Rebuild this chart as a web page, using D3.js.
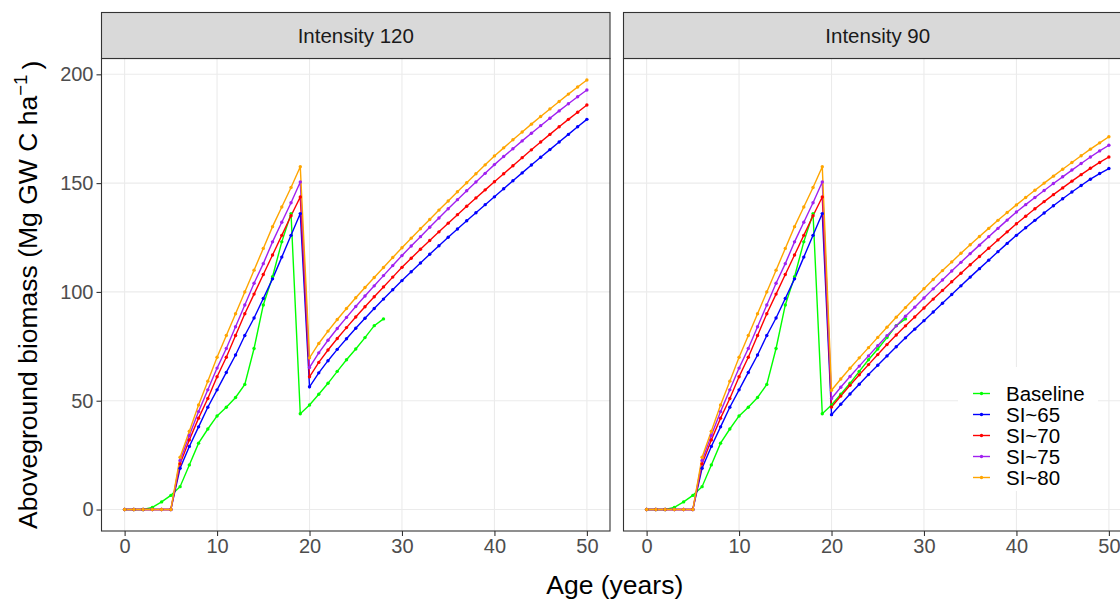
<!DOCTYPE html>
<meta charset="utf-8">
<head>
  <title>Aboveground biomass by age</title>
</head>

<style>
  body {
    margin: 0;
    font-family: "Liberation Sans", Arial, sans-serif;
    background: #fff;
  }
  .grid line { stroke: #ebebeb; stroke-width: 1.1; }
  .axis path { display: none; }
  .axis line { stroke: #333; stroke-width: 1.1; }
  .axis text { fill: #4d4d4d; font-size: 20px; font-family: "Liberation Sans", Arial, sans-serif; }
</style>

<body>
<svg id="chart" width="1120" height="599"></svg>

<script src="https://cdnjs.cloudflare.com/ajax/libs/d3/7.8.5/d3.min.js"></script>
<script>
  // facet labels
  var panels = ["Intensity 120", "Intensity 90"];
  var seriesNames = ["Baseline", "SI~65", "SI~70", "SI~75", "SI~80"];
  var seriesColors = ["#00ff00", "#0000ff", "#ff0000", "#a020f0", "#ffa500"];
  var xTicks = [0, 10, 20, 30, 40, 50];
  var yTicks = [0, 50, 100, 150, 200];

  // baseline, ages 0..28 (same in both panels)
  var baseline = [0, 0, 0, 1, 3.5, 6.5, 10.5, 20.5, 30.5, 37, 43, 47, 51.5, 57.5, 74, 94, 107, 123, 136,
    44, 48, 53, 58, 63.5, 68.8, 73.8, 79, 84.5, 87.6];

  // first rotation, ages 0..19 (same in both panels)
  var si65Pre = [0, 0, 0, 0, 0, 0, 19, 29, 38, 47, 55, 63, 71, 80, 88, 97, 106, 116, 126, 136];
  var si70Pre = [0, 0, 0, 0, 0, 0, 21, 32, 42, 51, 61, 70, 80, 90, 99, 108, 117, 126, 135, 143.6];
  var si75Pre = [0, 0, 0, 0, 0, 0, 22.5, 34, 45, 55, 65, 74, 84, 94, 104, 113, 123, 132, 141, 150.5];
  var si80Pre = [0, 0, 0, 0, 0, 0, 24, 36, 48, 59, 70, 80, 90, 100, 110, 120, 130, 139, 148, 157.5];

  // after thinning, ages 20..50, intensity 120
  var si65Int120 = [56.4, 62.8, 68.4, 73.6, 78.5, 83.3, 87.9, 92.4, 96.7, 101.0, 105.2, 109.3, 113.3, 117.3, 121.2, 125.1,
    128.9, 132.7, 136.4, 140.1, 143.7, 147.4, 151.1, 154.7, 158.3, 161.9, 165.4, 168.9, 172.4, 175.9, 179.3];
  var si70Int120 = [61, 67.6, 73.3, 78.6, 83.6, 88.5, 93.2, 97.8, 102.3, 106.8, 111.3, 115.5, 119.6, 123.6, 127.6, 131.6,
    135.5, 139.4, 143.2, 146.9, 150.6, 154.3, 158.0, 161.7, 165.3, 168.9, 172.4, 175.9, 179.3, 182.6, 185.9];
  var si75Int120 = [65.3, 72.0, 77.8, 83.2, 88.3, 93.3, 98.1, 102.8, 107.5, 112.1, 116.7, 121.1, 125.4, 129.7, 134.0, 138.2,
    142.4, 146.5, 150.5, 154.5, 158.5, 162.2, 165.8, 169.4, 172.9, 176.4, 179.8, 183.2, 186.5, 189.7, 192.8];
  var si80Int120 = [69.7, 76.3, 82, 87.3, 92.4, 97.3, 102, 106.6, 111.2, 115.8, 120.3, 124.7, 129, 133.3, 137.6, 141.8,
    146, 150.2, 154.3, 158.4, 162.5, 166.2, 169.9, 173.5, 177.1, 180.6, 184.1, 187.5, 190.9, 194.2, 197.4];

  // after thinning, ages 20..50, intensity 90
  var si65Int90 = [43.6, 48.4, 53.1, 57.6, 62.0, 66.3, 70.6, 74.8, 78.9, 82.9, 86.8, 90.8, 94.8, 98.8, 102.8, 106.8,
    110.7, 114.6, 118.5, 122.3, 126.0, 129.5, 132.9, 136.3, 139.6, 142.8, 145.9, 148.9, 151.8, 154.4, 156.7];
  var si70Int90 = [47.1, 52.2, 57.1, 61.9, 66.6, 71.2, 75.8, 80.2, 84.4, 88.5, 92.6, 96.7, 100.7, 104.7, 108.6, 112.5,
    116.3, 120.1, 123.9, 127.6, 131.3, 134.8, 138.2, 141.5, 144.7, 147.8, 150.9, 153.9, 156.8, 159.5, 162.0];
  var si75Int90 = [51, 56.2, 61.1, 65.9, 70.6, 75.3, 79.9, 84.4, 88.8, 93.0, 97.2, 101.4, 105.5, 109.6, 113.6, 117.6,
    121.5, 125.4, 129.2, 133.0, 136.7, 140.1, 143.4, 146.6, 149.8, 152.9, 156.0, 159.0, 162.0, 164.8, 167.4];
  var si80Int90 = [54.8, 60, 64.9, 69.7, 74.4, 79.1, 83.8, 88.4, 92.8, 97.2, 101.5, 105.7, 109.8, 113.8, 117.8, 121.7,
    125.5, 129.2, 132.9, 136.5, 140.0, 143.4, 146.7, 150.0, 153.2, 156.4, 159.5, 162.6, 165.6, 168.5, 171.3];

  var panelData = [
    [baseline, si65Pre.concat(si65Int120), si70Pre.concat(si70Int120), si75Pre.concat(si75Int120), si80Pre.concat(si80Int120)],
    [baseline, si65Pre.concat(si65Int90), si70Pre.concat(si70Int90), si75Pre.concat(si75Int90), si80Pre.concat(si80Int90)]
  ];

  // layout
  var panelW = 508.5, panelTop = 58.5, panelBottom = 531, stripTop = 12.5;
  var panelX = [101.5, 623.5];
  var ph = panelBottom - panelTop;

  var x = d3.scaleLinear().domain([-2.5, 52.5]).range([0, panelW]);
  var y = d3.scaleLinear().domain([-9.87, 207.27]).range([ph, 0]);

  var svg = d3.select('#chart');

  panels.forEach(function(name, p) {
    var g = svg.append('g').attr('transform', 'translate(' + panelX[p] + ',' + panelTop + ')');

    // strip
    svg.append('rect')
      .attr('x', panelX[p]).attr('y', stripTop)
      .attr('width', panelW).attr('height', panelTop - stripTop)
      .attr('fill', '#d9d9d9').attr('stroke', '#333').attr('stroke-width', 1.1);
    svg.append('text')
      .attr('x', panelX[p] + panelW / 2).attr('y', (stripTop + panelTop) / 2)
      .attr('dy', '0.36em').attr('text-anchor', 'middle')
      .style('font-size', '20.5px').style('fill', '#1a1a1a')
      .text(name);

    // grid
    var grid = g.append('g').attr('class', 'grid');
    grid.selectAll('.gx').data(xTicks).enter().append('line')
      .attr('x1', function(d) { return x(d); }).attr('x2', function(d) { return x(d); })
      .attr('y1', 0).attr('y2', ph);
    grid.selectAll('.gy').data(yTicks).enter().append('line')
      .attr('y1', function(d) { return y(d); }).attr('y2', function(d) { return y(d); })
      .attr('x1', 0).attr('x2', panelW);

    // lines then points
    var line = d3.line()
      .x(function(d, i) { return x(i); })
      .y(function(d) { return y(d); });

    panelData[p].forEach(function(vals, s) {
      g.append('path')
        .datum(vals)
        .attr('d', line)
        .attr('fill', 'none')
        .attr('stroke', seriesColors[s])
        .attr('stroke-width', 1.4);
    });
    panelData[p].forEach(function(vals, s) {
      g.selectAll('.pt' + s)
        .data(vals)
        .enter()
        .append('circle')
        .attr('cx', function(d, i) { return x(i); })
        .attr('cy', function(d) { return y(d); })
        .attr('r', 1.7)
        .attr('fill', seriesColors[s]);
    });

    // border
    g.append('rect')
      .attr('width', panelW).attr('height', ph)
      .attr('fill', 'none').attr('stroke', '#333').attr('stroke-width', 1.1);

    // axes
    g.append('g').attr('class', 'axis')
      .attr('transform', 'translate(0,' + ph + ')')
      .call(d3.axisBottom(x).tickValues(xTicks).tickSize(5).tickPadding(3));
    if (p === 0) {
      g.append('g').attr('class', 'axis')
        .call(d3.axisLeft(y).tickValues(yTicks).tickSize(5).tickPadding(3));
    }
  });

  // axis titles
  svg.append('text')
    .attr('x', (panelX[0] + panelX[1] + panelW) / 2 - 2).attr('y', 594)
    .attr('text-anchor', 'middle')
    .style('font-size', '26.5px').style('fill', '#000')
    .text('Age (years)');

  var yt = svg.append('text')
    .attr('transform', 'translate(37,' + (panelTop + ph / 2) + ') rotate(-90)')
    .attr('text-anchor', 'middle')
    .style('font-size', '26.5px').style('fill', '#000');
  yt.append('tspan').text('Aboveground biomass (Mg GW C ha');
  yt.append('tspan').attr('dy', '-0.55em').style('font-size', '18.5px').text('\u22121');
  yt.append('tspan').attr('dy', '0.55em').text('\u2009)');

  // legend inside right panel
  var legend = svg.append('g');
  legend.append('rect')
    .attr('x', 958).attr('y', 367).attr('width', 140).attr('height', 124)
    .attr('fill', '#fff');
  var rows = legend.selectAll('.row').data(seriesNames).enter().append('g')
    .attr('transform', function(d, i) { return 'translate(0,' + (393.5 + i * 21) + ')'; });
  rows.append('line')
    .attr('x1', 973).attr('x2', 990)
    .attr('stroke', function(d, i) { return seriesColors[i]; })
    .attr('stroke-width', 1.4);
  rows.append('circle')
    .attr('cx', 981.5).attr('r', 1.7)
    .attr('fill', function(d, i) { return seriesColors[i]; });
  rows.append('text')
    .attr('x', 1006).attr('dy', '0.36em')
    .style('font-size', '20.5px').style('fill', '#000')
    .text(function(d) { return d; });
</script>
</body>
</html>
